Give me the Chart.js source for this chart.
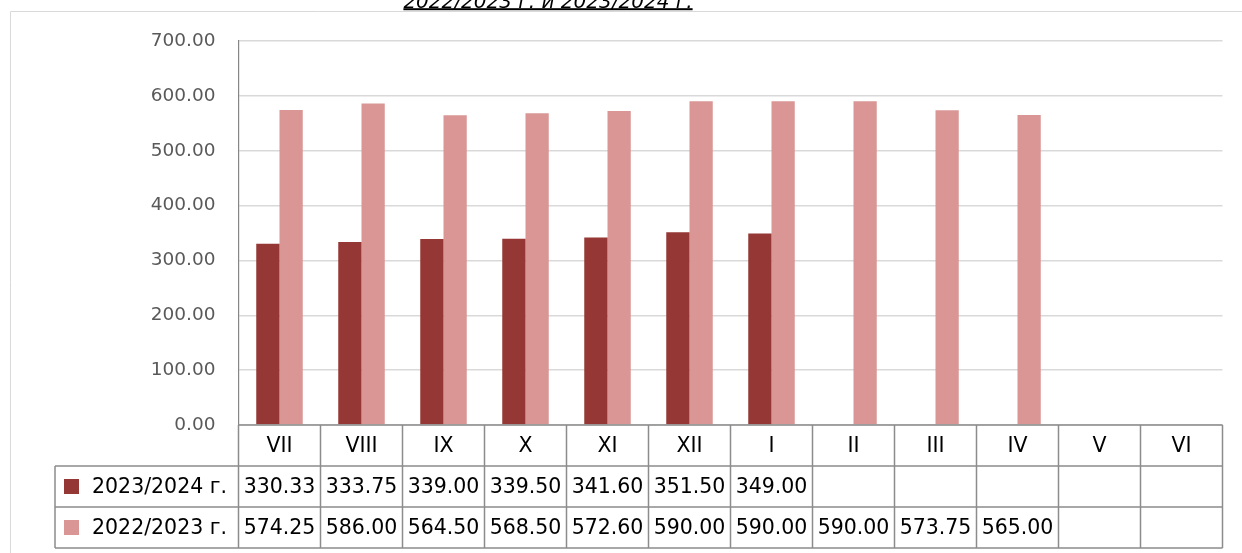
<!DOCTYPE html>
<html>
<head>
<meta charset="utf-8">
<script src="https://cdn.jsdelivr.net/npm/chart.js@4.4.1/dist/chart.umd.min.js"></script>
<style>
  html, body { margin: 0; padding: 0; background: #fff; overflow: hidden; }
  #wrap { position: relative; width: 1242px; height: 553px; }
</style>
</head>
<body>
<div id="wrap"><canvas id="myChart"></canvas></div>
<script>
const months = ['VII', 'VIII', 'IX', 'X', 'XI', 'XII', 'I', 'II', 'III', 'IV', 'V', 'VI'];
const season2324 = [330.33, 333.75, 339.00, 339.50, 341.60, 351.50, 349.00, null, null, null, null, null];
const season2223 = [574.25, 586.00, 564.50, 568.50, 572.60, 590.00, 590.00, 590.00, 573.75, 565.00, null, null];
const seriesNames = ['2023/2024 г.', '2022/2023 г.'];
const yMin = 0, yMax = 700, yStep = 100;
const title = '2022/2023 г. и 2023/2024 г.';

const darkRed = '#953735';
const lightRed = '#d99694';
const FONT = '"DejaVu Sans", Verdana, sans-serif';
Chart.defaults.font.family = FONT;

// title, outer frame and the data table under the plot
const tablePlugin = {
  id: 'dataTable',
  afterDraw(chart) {
    const { ctx, chartArea, scales: { x } } = chart;
    const colW = x.getPixelForValue(1) - x.getPixelForValue(0);
    const left = chartArea.left, right = chartArea.right;
    const top = chartArea.bottom;
    const rowH = 41;
    const legendLeft = 55;
    const bottom = top + rowH * 3;

    ctx.save();

    // frame
    ctx.strokeStyle = '#d9d9d9';
    ctx.lineWidth = 1;
    ctx.beginPath();
    ctx.moveTo(10.5, 553);
    ctx.lineTo(10.5, 11.5);
    ctx.lineTo(1242, 11.5);
    ctx.stroke();

    // title (cut at the top like in the original)
    ctx.font = 'italic 20px ' + FONT;
    ctx.fillStyle = '#000';
    ctx.textAlign = 'center';
    ctx.textBaseline = 'alphabetic';
    const tx = 548;
    ctx.fillText(title, tx, 7.5);
    const tw = ctx.measureText(title).width;
    ctx.fillRect(tx - tw / 2, 8.2, tw, 2);

    // grid of the table
    ctx.strokeStyle = '#8c8c8c';
    ctx.lineWidth = 1.5;
    ctx.beginPath();
    ctx.moveTo(left, top); ctx.lineTo(right, top);
    ctx.moveTo(legendLeft, top + rowH); ctx.lineTo(right, top + rowH);
    ctx.moveTo(legendLeft, top + rowH * 2); ctx.lineTo(right, top + rowH * 2);
    ctx.moveTo(legendLeft, bottom); ctx.lineTo(right, bottom);
    ctx.moveTo(legendLeft, top + rowH); ctx.lineTo(legendLeft, bottom);
    for (let i = 0; i <= months.length; i++) {
      const cx = x.getPixelForValue(i) - colW / 2;
      ctx.moveTo(cx, top); ctx.lineTo(cx, bottom);
    }
    ctx.stroke();

    ctx.font = '20.5px ' + FONT;
    ctx.fillStyle = '#000';
    ctx.textAlign = 'center';
    ctx.textBaseline = 'middle';
    months.forEach((m, i) => {
      ctx.fillText(m, x.getPixelForValue(i), top + rowH / 2 + 1);
    });

    const rows = [season2324, season2223];
    const colors = [darkRed, lightRed];
    rows.forEach((vals, r) => {
      const mid = top + rowH * (r + 1) + rowH / 2;
      ctx.fillStyle = colors[r];
      ctx.fillRect(64, mid - 7.5, 15, 15);
      ctx.fillStyle = '#000';
      ctx.textAlign = 'left';
      ctx.fillText(seriesNames[r], 92, mid + 1);
      ctx.textAlign = 'center';
      vals.forEach((v, i) => {
        if (v === null) return;
        ctx.fillText(v.toFixed(2), x.getPixelForValue(i), mid + 1);
      });
    });

    ctx.restore();
  }
};

const ctx = document.getElementById('myChart');
const myChart = new Chart(ctx, {
  type: 'bar',
  data: {
    labels: months,
    datasets: [
      {
        label: seriesNames[0],
        data: season2324,
        backgroundColor: darkRed,
        borderWidth: 0,
        categoryPercentage: 0.567,
        barPercentage: 1
      },
      {
        label: seriesNames[1],
        data: season2223,
        backgroundColor: lightRed,
        borderWidth: 0,
        categoryPercentage: 0.567,
        barPercentage: 1
      }
    ]
  },
  options: {
    responsive: true,
    maintainAspectRatio: false,
    animation: false,
    layout: { padding: { top: 41, right: 19.5, bottom: 128, left: 0 } },
    plugins: {
      legend: { display: false },
      tooltip: { enabled: false }
    },
    scales: {
      x: { display: false },
      y: {
        min: yMin,
        max: yMax,
        afterFit(scale) { scale.width = 238.5; },
        ticks: {
          stepSize: yStep,
          color: '#595959',
          font: { size: 18.5 },
          padding: 23,
          callback: v => Number(v).toFixed(2)
        },
        grid: { color: '#d9d9d9', lineWidth: 1.5, drawTicks: false },
        border: { display: true, color: '#868686', width: 1.2 }
      }
    }
  },
  plugins: [tablePlugin]
});
</script>
</body>
</html>
